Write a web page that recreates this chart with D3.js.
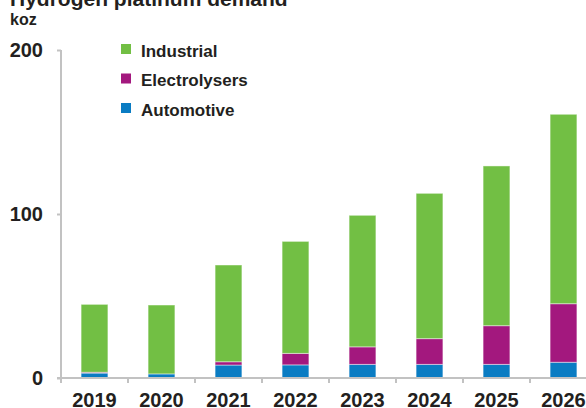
<!DOCTYPE html>
<html>
<head>
<meta charset="utf-8">
<script src="https://cdn.jsdelivr.net/npm/d3@7/dist/d3.min.js"></script>
<style>
  html, body { margin: 0; padding: 0; background: #fff; }
  svg { display: block; font-family: "Liberation Sans", Arial, sans-serif; }
  text { fill: #231f20; font-weight: bold; }
</style>
</head>
<body>
<svg id="chart" width="586" height="408"></svg>
<script>
// Hydrogen platinum demand by segment, koz
const years = ["2019", "2020", "2021", "2022", "2023", "2024", "2025", "2026"];
const automotive    = [3.0, 2.5, 7.9, 8.0, 8.3, 8.3, 8.3, 9.6];
const electrolysers = [0.5, 0.0, 2.0, 7.0, 10.7, 15.7, 23.6, 35.7];
const industrial    = [41.4, 42.0, 59.0, 68.3, 80.2, 88.6, 97.4, 115.5];
const yTicks = [0, 100, 200];

const seriesNames = ["Automotive", "Electrolysers", "Industrial"];
const colors = { Automotive: "#0a7cc3", Electrolysers: "#a3187e", Industrial: "#72bf44" };
const legendOrder = ["Industrial", "Electrolysers", "Automotive"];

const rows = years.map((y, i) => ({
  year: y,
  Automotive: automotive[i],
  Electrolysers: electrolysers[i],
  Industrial: industrial[i]
}));

const svg = d3.select("#chart");
const axisColor = "#c2c2c2";

const x0 = 61, yZero = 378, yTop = 50;
const outer = 0.3;
const x = d3.scaleBand().domain(years).range([x0, x0 + 8 * 67])
  .paddingInner(0.6).paddingOuter(outer);
const y = d3.scaleLinear().domain([0, 200]).range([yZero, yTop]);

// Title and unit
svg.append("text").attr("x", 10).attr("y", 6).style("font-size", "21px")
  .text("Hydrogen platinum demand");
svg.append("text").attr("x", 10).attr("y", 25).style("font-size", "16px").text("koz");

// Stacked bars
const stack = d3.stack().keys(seriesNames)(rows);
svg.append("g").selectAll("g").data(stack).join("g")
  .attr("fill", d => colors[d.key])
  .selectAll("rect").data(d => d.filter(p => p[1] - p[0] > 0)).join("rect")
  .attr("x", d => x(d.data.year))
  .attr("width", x.bandwidth())
  .attr("y", d => y(d[1]))
  .attr("height", d => y(d[0]) - y(d[1]))
  .attr("stroke", "#ffffff")
  .attr("stroke-opacity", 0.45)
  .attr("stroke-width", 1);

// Y axis
const yAxis = svg.append("g").attr("transform", `translate(${x0},0)`)
  .call(d3.axisLeft(y).tickValues(yTicks).tickSize(4).tickPadding(14).tickFormat(d3.format("d")));
yAxis.select(".domain").remove();
yAxis.selectAll(".tick line").attr("stroke", axisColor).attr("stroke-width", 2);
yAxis.selectAll(".tick text").style("font-size", "20px").attr("fill", "#231f20")
  .style("font-family", "'Liberation Sans', Arial, sans-serif").style("font-weight", "bold");
svg.append("line").attr("x1", x0).attr("x2", x0).attr("y1", y(200)).attr("y2", yZero + 5)
  .attr("stroke", axisColor).attr("stroke-width", 2);

// X axis
const xAxis = svg.append("g").attr("transform", `translate(0,${yZero})`)
  .call(d3.axisBottom(x).tickSize(0).tickPadding(15));
xAxis.select(".domain").remove();
xAxis.selectAll(".tick text").style("font-size", "20px").attr("fill", "#231f20")
  .style("font-family", "'Liberation Sans', Arial, sans-serif").style("font-weight", "bold");
svg.append("line").attr("x1", x0 - 4).attr("x2", 586).attr("y1", yZero).attr("y2", yZero)
  .attr("stroke", axisColor).attr("stroke-width", 2);
// category boundary ticks
svg.append("g").selectAll("line").data(years.slice(1)).join("line")
  .attr("x1", d => x(d) - x.step() * outer)
  .attr("x2", d => x(d) - x.step() * outer)
  .attr("y1", yZero).attr("y2", yZero + 5)
  .attr("stroke", axisColor).attr("stroke-width", 2);

// Legend
const legend = svg.append("g").selectAll("g").data(legendOrder).join("g")
  .attr("transform", (d, i) => `translate(121,${44 + i * 29.5})`);
legend.append("rect").attr("width", 10).attr("height", 10).attr("fill", d => colors[d]);
legend.append("text").attr("x", 20).attr("y", 12.5).style("font-size", "17px").text(d => d);
</script>
</body>
</html>
